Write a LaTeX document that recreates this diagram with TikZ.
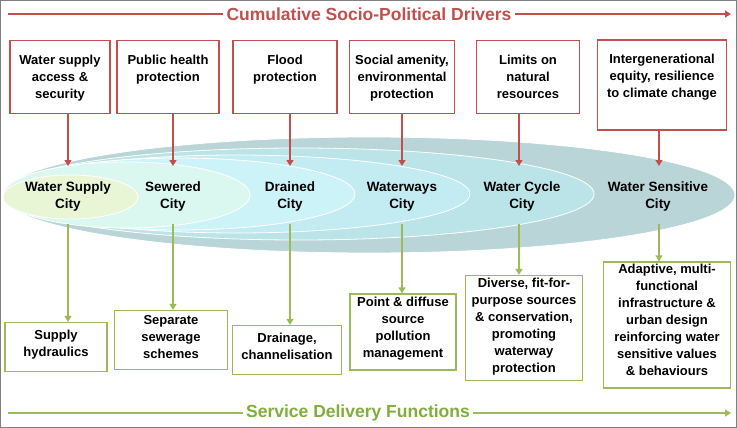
\documentclass[tikz,border=0pt]{standalone}
\usepackage{fontspec}
\setmainfont{Liberation Sans}
\usetikzlibrary{arrows.meta}
\definecolor{rd}{HTML}{C0504D}
\definecolor{gr}{HTML}{9BBB59}
\definecolor{grt}{HTML}{7FAF3A}
\begin{document}
\begin{tikzpicture}[x=1pt,y=-1pt,
 topbox/.style={draw=rd,line width=1.3pt,fill=white,inner sep=0pt},
 botbox/.style={draw=gr,line width=1.3pt,fill=white,inner sep=0pt},
 btxt/.style={anchor=north,align=center,font=\bfseries\fontsize{13}{17}\selectfont,inner sep=0pt},
 city/.style={align=center,font=\bfseries\fontsize{13.5}{17}\selectfont},
 rarr/.style={draw=rd,line width=1.3pt,-{Triangle[length=6pt,width=7pt]}},
 garr/.style={draw=gr,line width=1.3pt,-{Triangle[length=6pt,width=7pt]}},
 ell/.style={draw=white,line width=0.8pt}]
\useasboundingbox (0,0) rectangle (737,428);
\draw[gray,line width=1pt] (0.5,0.5) rectangle (736.5,427.5);
% ellipses
\fill[ell,fill={rgb,255:red,185;green,213;blue,216}] (369,195) ellipse [x radius=366,y radius=58];
\fill[ell,fill={rgb,255:red,186;green,228;blue,232}] (298.5,194) ellipse [x radius=295.5,y radius=46];
\fill[ell,fill={rgb,255:red,194;green,236;blue,241}] (236.5,194) ellipse [x radius=233.5,y radius=39];
\fill[ell,fill={rgb,255:red,204;green,244;blue,248}] (179,194) ellipse [x radius=176,y radius=36];
\fill[ell,fill={rgb,255:red,218;green,247;blue,240}] (126.5,195) ellipse [x radius=123.5,y radius=33];
\fill[ell,fill={rgb,255:red,232;green,246;blue,214}] (70.5,197) ellipse [x radius=67.5,y radius=22];
% titles
\node[font=\bfseries\fontsize{17.5}{20}\selectfont,text=rd,fill=white,inner sep=3pt] (t1) at (369,14) {Cumulative Socio-Political Drivers};
\coordinate (t1a) at (8,14); \coordinate (t1b) at (731,14);
\draw[rd,line width=1.3pt] (t1a) -- (t1.west);
\draw[rarr] (t1.east) -- (t1b);
\node[font=\bfseries\fontsize{17.5}{20}\selectfont,text=grt,fill=white,inner sep=3pt] (t2) at (358,413) {Service Delivery Functions};
\coordinate (t2a) at (8,413); \coordinate (t2b) at (731,413);
\draw[gr,line width=1.3pt] (t2a) -- (t2.west);
\draw[garr] (t2.east) -- (t2b);
% top boxes
\node[topbox,minimum width=100pt,minimum height=73pt] (a1) at (60,77) {};
\node[topbox,minimum width=102pt,minimum height=73pt] (a2) at (168,77) {};
\node[topbox,minimum width=104pt,minimum height=73pt] (a3) at (285,77) {};
\node[topbox,minimum width=105pt,minimum height=73pt] (a4) at (402,77) {};
\node[topbox,minimum width=103pt,minimum height=73pt] (a5) at (528,77) {};
\node[topbox,minimum width=129pt,minimum height=90pt] (a6) at (662,85) {};
\node[btxt] (ta1) at ([yshift=-15pt]a1.north) {Water supply\\access \&\\security};
\node[btxt] (ta2) at ([yshift=-15pt]a2.north) {Public health\\protection};
\node[btxt] (ta3) at ([yshift=-15pt]a3.north) {Flood\\protection};
\node[btxt] (ta4) at ([yshift=-15pt]a4.north) {Social amenity,\\environmental\\protection};
\node[btxt] (ta5) at ([yshift=-15pt]a5.north) {Limits on\\natural\\resources};
\node[btxt] (ta6) at ([yshift=-15pt]a6.north) {Intergenerational\\equity, resilience\\to climate change};
% cities
\node[city] (c1) at (68,197) {Water Supply\\City};
\node[city] (c2) at (173,197) {Sewered\\City};
\node[city] (c3) at (290,197) {Drained\\City};
\node[city] (c4) at (402,197) {Waterways\\City};
\node[city] (c5) at (522,197) {Water Cycle\\City};
\node[city] (c6) at (658,197) {Water Sensitive\\City};
% bottom boxes
\node[botbox,minimum width=102pt,minimum height=49pt] (b1) at (56,347) {};
\node[botbox,minimum width=113pt,minimum height=59pt] (b2) at (171,340) {};
\node[botbox,minimum width=109pt,minimum height=49pt] (b3) at (287,350) {};
\node[botbox,minimum width=106pt,minimum height=76pt] (b4) at (403,332) {};
\node[botbox,minimum width=117pt,minimum height=105pt] (b5) at (524,328) {};
\node[botbox,minimum width=127pt,minimum height=126pt] (b6) at (667,325) {};
\node[btxt] (tb1) at ([yshift=-8pt]b1.north) {Supply\\hydraulics};
\node[btxt] (tb2) at ([yshift=-5pt]b2.north) {Separate\\sewerage\\schemes};
\node[btxt] (tb3) at ([yshift=-8pt]b3.north) {Drainage,\\channelisation};
\node[btxt] (tb4) at ([yshift=-4pt]b4.north) {Point \& diffuse\\source\\pollution\\management};
\node[btxt] (tb5) at ([yshift=-3pt]b5.north) {Diverse, fit-for-\\purpose sources\\\& conservation,\\promoting\\waterway\\protection};
\node[btxt] (tb6) at ([yshift=-3pt]b6.north) {Adaptive, multi-\\functional\\infrastructure \&\\urban design\\reinforcing water\\sensitive values\\\& behaviours};
% arrows
\foreach \i/\x in {1/68,2/173,3/290,4/402,5/519,6/659}{
  \draw[rarr] (a\i.south -| \x,0) -- (\x,166);
}
\foreach \i/\x in {1/68,2/173,3/290,4/402,5/519,6/659}{
  \draw[garr] (\x,224) -- (b\i.north -| \x,0);
}
\end{tikzpicture}
\end{document}
